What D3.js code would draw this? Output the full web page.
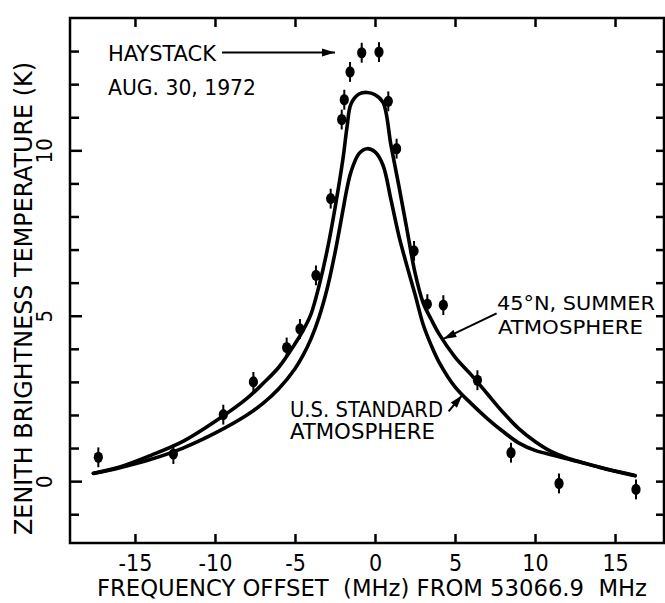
<!DOCTYPE html>
<html>
<head>
<meta charset="utf-8">
<script src="https://cdn.jsdelivr.net/npm/d3@7"></script>
<style>
  body { margin: 0; background: #fff; }
  svg { display: block; }
  text { font-family: "Liberation Sans Narrow", "DejaVu Sans Condensed", "Liberation Sans", sans-serif; fill: #000; }
</style>
</head>
<body>
<svg width="665" height="603"></svg>
<script>
// measured points (frequency offset MHz, brightness K)
const obsX = [-17.29, -12.6, -9.48, -7.6, -5.52, -4.69, -3.69, -2.77, -2.08, -1.92, -1.56, -0.83, 0.25, 0.83, 1.35, 2.44, 3.27, 4.27, 6.4, 8.5, 11.5, 16.31];
const obsY = [0.72, 0.82, 2.01, 3.0, 4.04, 4.6, 6.22, 8.54, 10.93, 11.53, 12.37, 12.95, 12.97, 11.48, 10.05, 6.96, 5.35, 5.32, 3.05, 0.86, -0.07, -0.25];
const obsErr = 0.3;

// model curves
const curveX = [-17.6, -16, -14, -12, -10, -8, -7, -6, -5, -4.5, -4, -3.5, -3, -2.5, -2, -1.75, -1.5, -1, -0.5, 0, 0.5, 1, 1.5, 2, 2.5, 3, 3.5, 4, 5, 6, 7, 8, 9, 10, 11, 12, 13, 14, 15, 16.25];
const summerY = [0.24, 0.42, 0.78, 1.2, 1.8, 2.5, 2.95, 3.45, 4.15, 4.55, 5.05, 5.9, 6.95, 8.25, 9.75, 10.7, 11.4, 11.7, 11.75, 11.68, 11.45, 10.15, 8.9, 7.6, 6.3, 5.4, 4.9, 4.45, 3.75, 3.22, 2.65, 2.08, 1.58, 1.2, 0.9, 0.7, 0.56, 0.43, 0.31, 0.17];
const standardY = [0.23, 0.4, 0.66, 1.0, 1.45, 2.0, 2.35, 2.8, 3.4, 3.8, 4.3, 4.95, 5.8, 6.9, 8.2, 8.85, 9.35, 9.9, 10.05, 9.95, 9.55, 8.5, 7.4, 6.5, 5.65, 4.75, 4.12, 3.6, 2.85, 2.35, 1.9, 1.5, 1.15, 0.93, 0.8, 0.68, 0.55, 0.42, 0.3, 0.16];

const xTicks = [-15, -10, -5, 0, 5, 10, 15];
const yTicks = d3.range(-1, 14);
const yLabelTicks = [0, 5, 10];

const svg = d3.select("svg");
const plotL = 70, plotR = 664, plotT = 18, plotB = 543;

const x = d3.scaleLinear().domain([-19.06, 18.06]).range([plotL, plotR]);
const y = d3.scaleLinear().domain([-1.87, 14]).range([plotB, plotT]);

const fmt = d => d < 0 ? "-" + Math.abs(d) : String(d);

// frame
svg.append("rect")
  .attr("x", plotL).attr("y", plotT)
  .attr("width", plotR - plotL).attr("height", plotB - plotT)
  .attr("fill", "none").attr("stroke", "#000").attr("stroke-width", 2.5);

// bottom axis, ticks pointing in
const xb = svg.append("g")
  .attr("transform", `translate(0,${plotB})`)
  .call(d3.axisBottom(x).tickValues(xTicks).tickSize(-9).tickPadding(12).tickFormat(fmt));
xb.select(".domain").remove();
xb.selectAll("line").attr("stroke-width", 2.5);
xb.selectAll("text").attr("font-size", 23);

// top axis ticks
const xt = svg.append("g")
  .attr("transform", `translate(0,${plotT})`)
  .call(d3.axisTop(x).tickValues(xTicks).tickSize(-9).tickFormat(""));
xt.select(".domain").remove();
xt.selectAll("line").attr("stroke-width", 2.5);

// left axis
const yl = svg.append("g")
  .attr("transform", `translate(${plotL},0)`)
  .call(d3.axisLeft(y).tickValues(yTicks).tickSize(-9)
    .tickFormat(d => yLabelTicks.includes(d) ? d : ""));
yl.select(".domain").remove();
yl.selectAll("line").attr("stroke-width", 2.5)
  .attr("x2", d => yLabelTicks.includes(d) ? 12 : 9);
yl.selectAll("text")
  .attr("x", null).attr("dy", "0.35em")
  .attr("text-anchor", "middle")
  .attr("font-size", 22)
  .attr("transform", "translate(-26,0) rotate(-90)");

// right axis ticks
const yr = svg.append("g")
  .attr("transform", `translate(${plotR},0)`)
  .call(d3.axisRight(y).tickValues(yTicks).tickSize(-8).tickFormat(""));
yr.select(".domain").remove();
yr.selectAll("line").attr("stroke-width", 2.5);

// curves
const line = (ys) => d3.line()
  .x((d, i) => x(curveX[i]))
  .y(d => y(d))
  .curve(d3.curveCatmullRom.alpha(0.5))(ys);

[summerY, standardY].forEach(ys => {
  svg.append("path")
    .attr("d", line(ys))
    .attr("fill", "none")
    .attr("stroke", "#000")
    .attr("stroke-width", 3.6)
    .attr("stroke-linecap", "round");
});

// observations
const pts = svg.append("g").selectAll("g")
  .data(obsX.map((v, i) => ({ f: v, t: obsY[i] })))
  .join("g");
pts.append("line")
  .attr("x1", d => x(d.f)).attr("x2", d => x(d.f))
  .attr("y1", d => y(d.t + obsErr)).attr("y2", d => y(d.t - obsErr))
  .attr("stroke", "#000").attr("stroke-width", 2);
pts.append("ellipse")
  .attr("cx", d => x(d.f)).attr("cy", d => y(d.t))
  .attr("rx", 4.6).attr("ry", 5.6)
  .attr("fill", "#000");

// arrows
function arrow(x1, y1, x2, y2, w) {
  svg.append("line")
    .attr("x1", x(x1)).attr("y1", y(y1))
    .attr("x2", x(x2)).attr("y2", y(y2))
    .attr("stroke", "#000").attr("stroke-width", w);
  const ang = Math.atan2(y(y2) - y(y1), x(x2) - x(x1)) * 180 / Math.PI;
  svg.append("path")
    .attr("d", "M0,0 L-13,-4 L-13,4 Z")
    .attr("fill", "#000")
    .attr("transform", `translate(${x(x2)},${y(y2)}) rotate(${ang})`);
}
arrow(-9.56, 12.96, -2.5, 12.96, 2);
arrow(7.6, 5.07, 4.27, 4.3, 2);
arrow(4.6, 2.11, 5.45, 2.6, 2);

// annotation text
function label(txt, px, py, size, len) {
  svg.append("text")
    .attr("x", px).attr("y", py)
    .attr("font-size", size)
    .attr("textLength", len)
    .attr("lengthAdjust", "spacingAndGlyphs")
    .text(txt);
}
label("HAYSTACK", 108, 61, 22, 108);
label("AUG. 30, 1972", 108, 95, 22, 148);
label("45°N, SUMMER", 497, 310, 20, 158);
label("ATMOSPHERE", 498, 334, 20, 145);
label("U.S. STANDARD", 290, 417, 21, 153);
label("ATMOSPHERE", 290, 439, 21, 145);

// axis titles
svg.append("text")
  .attr("x", 97).attr("y", 596)
  .attr("font-size", 23)
  .attr("textLength", 550)
  .attr("lengthAdjust", "spacingAndGlyphs")
  .attr("xml:space", "preserve")
  .text("FREQUENCY OFFSET  (MHz) FROM 53066.9  MHz");

svg.append("text")
  .attr("transform", "translate(32,535) rotate(-90)")
  .attr("font-size", 25)
  .attr("textLength", 473)
  .attr("lengthAdjust", "spacingAndGlyphs")
  .text("ZENITH BRIGHTNESS TEMPERATURE (K)");
</script>
</body>
</html>
